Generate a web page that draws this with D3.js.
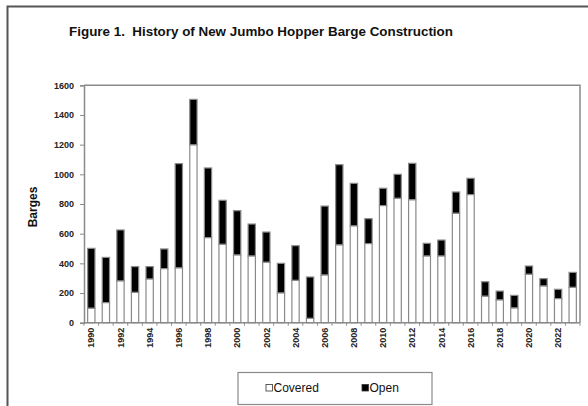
<!DOCTYPE html>
<html><head><meta charset="utf-8">
<script src="https://cdn.jsdelivr.net/npm/d3@7"></script>
<style>body{margin:0;background:#fff;} svg{display:block;} text{white-space:pre;}</style>
</head><body>
<svg id="c" width="588" height="406"></svg>
<script>
const years = d3.range(1990, 2024).map(String);
const covered = [97,135,281,204,294,364,369,1198,573,528,456,449,407,200,285,29,321,524,652,533,789,838,828,449,449,737,863,178,153,99,326,247,162,238];
const openVals = [404,305,344,174,84,133,703,307,470,297,299,216,204,200,234,279,465,541,287,168,117,162,246,86,108,144,110,98,60,85,56,50,63,101];
const yTicks = [0,200,400,600,800,1000,1200,1400,1600];
const xLabelYears = years.filter((d,i)=>i%2===0);
const seriesNames = ["Covered","Open"];

const svg = d3.select("#c");
const font = "'Liberation Sans', Arial, sans-serif";
const grey = "#8a8a8a";

// outer frame
svg.append("path").attr("d","M7.5,420 V6.5 H600").attr("fill","none").attr("stroke","#555").attr("stroke-width",2);

svg.append("text").attr("x",261).attr("y",36).attr("text-anchor","middle")
  .attr("font-family",font).attr("font-weight","bold").attr("font-size",13.4).attr("fill","#111")
  .text("Figure 1.\u00a0\u00a0History of New Jumbo Hopper Barge Construction");

const L=84, R=580, T=85.3, B=322.7;
const x = d3.scaleBand().domain(years).range([L,R]).paddingInner(0.5).paddingOuter(0.25);
const y = d3.scaleLinear().domain([0,1600]).range([B,T]);

// plot border top/right
svg.append("path").attr("d",`M${L},${T} H${R} V${B}`).attr("fill","none").attr("stroke",grey).attr("stroke-width",1.5);

const data = years.map((yr,i)=>({yr, c:covered[i], o:openVals[i]}));
const g = svg.append("g");
g.selectAll("rect.o").data(data).join("rect").attr("class","o")
  .attr("x",d=>x(d.yr)).attr("width",x.bandwidth())
  .attr("y",d=>y(d.c+d.o)).attr("height",d=>y(d.c)-y(d.c+d.o))
  .attr("fill","#000").attr("stroke",grey).attr("stroke-width",1.2);
g.selectAll("rect.c").data(data).join("rect").attr("class","c")
  .attr("x",d=>x(d.yr)).attr("width",x.bandwidth())
  .attr("y",d=>y(d.c)).attr("height",d=>B-y(d.c))
  .attr("fill","#fff").attr("stroke",grey).attr("stroke-width",1.2);

// y axis
const ya = svg.append("g").attr("transform",`translate(${L},0)`)
  .call(d3.axisLeft(y).tickValues(yTicks).tickFormat(d3.format("d")).tickSize(4).tickPadding(6));
ya.select(".domain").attr("stroke",grey).attr("stroke-width",1.5);
ya.selectAll(".tick line").attr("stroke",grey);
ya.selectAll("text").attr("font-family",font).attr("font-weight","bold").attr("font-size",9).attr("fill","#222");

// x axis
const xa = svg.append("g").attr("transform",`translate(0,${B})`)
  .call(d3.axisBottom(x).tickValues(xLabelYears).tickSize(0).tickPadding(0));
xa.select(".domain").remove();
xa.selectAll("text").attr("font-family",font).attr("font-weight","bold").attr("font-size",9).attr("fill","#222")
  .attr("transform","rotate(-90)").attr("text-anchor","end").attr("dy","0.35em").attr("x",-5).attr("y",0);
svg.append("line").attr("x1",L).attr("x2",R).attr("y1",B).attr("y2",B).attr("stroke",grey).attr("stroke-width",1.5);
const step = x.step();
const bounds = years.map((d,i)=>x(d)-(step-x.bandwidth())/2).concat([R]);
svg.append("g").selectAll("line").data(bounds).join("line")
  .attr("x1",d=>d).attr("x2",d=>d).attr("y1",B).attr("y2",B+3).attr("stroke",grey);

svg.append("text").attr("transform","translate(37,207) rotate(-90)").attr("text-anchor","middle")
  .attr("font-family",font).attr("font-weight","bold").attr("font-size",12).attr("fill","#111").text("Barges");

// legend
svg.append("rect").attr("x",238).attr("y",372.5).attr("width",194).attr("height",32).attr("fill","#fff").attr("stroke",grey).attr("stroke-width",1.2);
const leg = svg.append("g");
const lx = [266,362];
seriesNames.forEach((n,i)=>{
  leg.append("rect").attr("x",lx[i]).attr("y",384.5).attr("width",6.5).attr("height",6.5)
    .attr("fill",i===0?"#fff":"#000").attr("stroke","#333").attr("stroke-width",0.8);
  leg.append("text").attr("x",lx[i]+7.5).attr("y",392).attr("font-family",font).attr("font-size",12).attr("fill","#111").text(n);
});
</script>
</body></html>
